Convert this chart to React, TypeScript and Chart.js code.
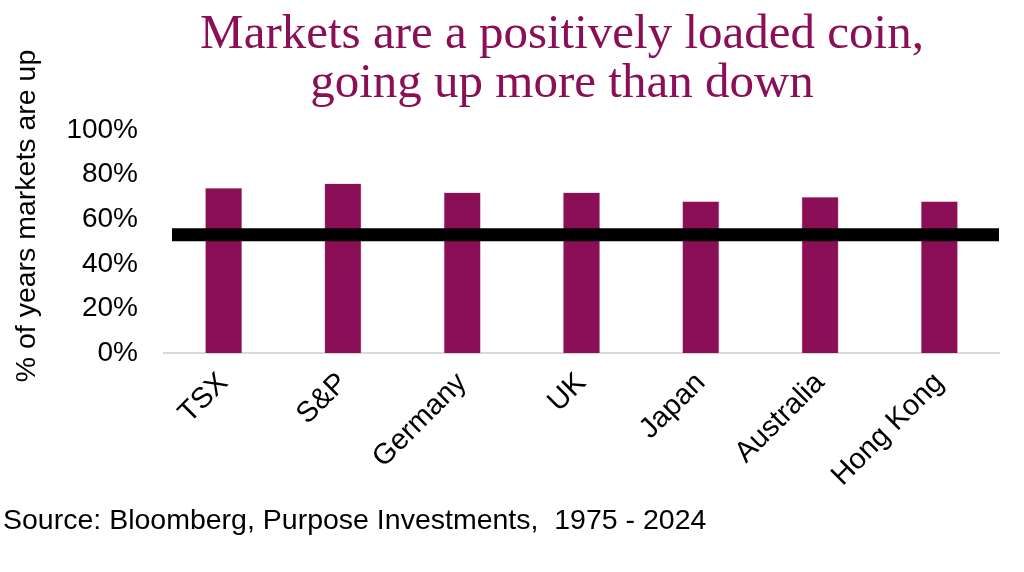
import React, { useEffect, useRef } from "react";
import { Chart, registerables } from "chart.js";

Chart.register(...registerables);

const categories = ["TSX", "S&P", "Germany", "UK", "Japan", "Australia", "Hong Kong"];
const upShare = [74, 76, 72, 72, 68, 70, 68];
const referenceLevel = [53];
const yTicks = [0, 20, 40, 60, 80, 100];
const titleLines = ["Markets are a positively loaded coin,", "going up more than down"];
const yAxisTitle = "% of years markets are up";
const sourceNote = "Source: Bloomberg, Purpose Investments,  1975 - 2024";

const MAROON = "#8A0F56";

const overlayPlugin = {
  id: "overlay",
  afterDatasetsDraw(chart: any) {
    const { ctx, chartArea, scales } = chart;
    const y = scales.y.getPixelForValue(referenceLevel[0]);
    ctx.save();
    ctx.strokeStyle = "#000000";
    ctx.lineWidth = 13;
    ctx.beginPath();
    ctx.moveTo(chartArea.left + 8, y);
    ctx.lineTo(chartArea.right, y);
    ctx.stroke();
    ctx.restore();
  },
  afterDraw(chart: any) {
    const { ctx } = chart;
    ctx.save();
    ctx.fillStyle = MAROON;
    ctx.font = "49px 'Liberation Serif', serif";
    ctx.textAlign = "center";
    ctx.textBaseline = "alphabetic";
    ctx.fillText(titleLines[0], 562, 48);
    ctx.fillText(titleLines[1], 562, 97);
    ctx.fillStyle = "#000000";
    ctx.font = "28.5px 'Liberation Sans', Arial, sans-serif";
    ctx.textAlign = "left";
    ctx.fillText(sourceNote, 3, 529);
    ctx.save();
    ctx.translate(27, 216);
    ctx.rotate(-Math.PI / 2);
    ctx.textAlign = "center";
    ctx.textBaseline = "middle";
    ctx.font = "28.5px 'Liberation Sans', Arial, sans-serif";
    ctx.fillText(yAxisTitle, 0, 0);
    ctx.restore();
    ctx.restore();
  },
};

export default function App() {
  const canvasRef = useRef<HTMLCanvasElement | null>(null);

  useEffect(() => {
    document.body.style.margin = "0";
    const canvas = canvasRef.current;
    if (!canvas) return;
    const chart = new Chart(canvas, {
      type: "bar",
      data: {
        labels: categories,
        datasets: [
          {
            data: upShare,
            backgroundColor: MAROON,
            borderColor: "#C98AAE",
            borderWidth: 0.6,
            barPercentage: 0.31,
            categoryPercentage: 1,
          },
        ],
      },
      options: {
        responsive: false,
        animation: false,
        layout: { padding: { left: 0, right: 25, top: 130, bottom: 0 } },
        plugins: {
          legend: { display: false },
          tooltip: { enabled: false },
          title: { display: false },
        },
        scales: {
          x: {
            grid: { display: false, drawTicks: false },
            border: { display: true, color: "#D9D9D9", width: 2 },
            ticks: {
              color: "#000000",
              font: { family: "'Liberation Sans', Arial, sans-serif", size: 29 },
              maxRotation: 45,
              minRotation: 45,
              padding: 13,
            },
            afterFit: (s: any) => {
              s.height = 572 - 353;
            },
          },
          y: {
            min: 0,
            max: 100,
            afterBuildTicks: (s: any) => {
              s.ticks = yTicks.map((v) => ({ value: v }));
            },
            grid: { display: false, drawTicks: false },
            border: { display: false },
            ticks: {
              color: "#000000",
              font: { family: "'Liberation Sans', Arial, sans-serif", size: 28 },
              padding: 26,
              callback: (v: any) => v + "%",
            },
            title: { display: false },
            afterFit: (s: any) => {
              s.width = 164;
            },
          },
        },
      },
      plugins: [overlayPlugin],
    });
    return () => chart.destroy();
  }, []);

  return (
    <div style={{ width: 1024, height: 572, background: "#ffffff" }}>
      <canvas ref={canvasRef} width={1024} height={572} />
    </div>
  );
}
